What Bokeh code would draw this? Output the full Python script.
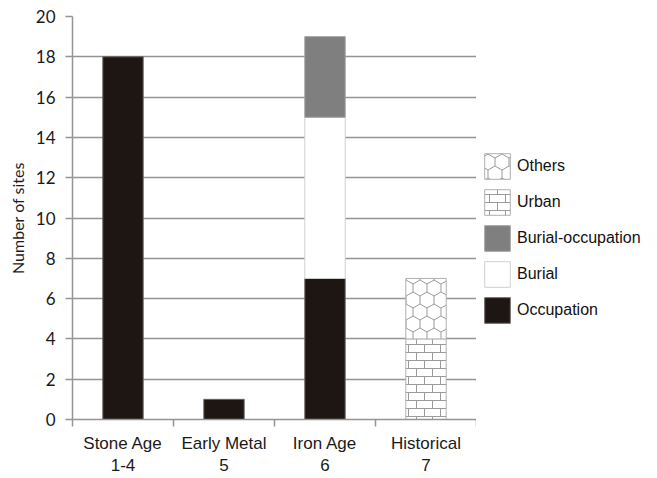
import base64
import numpy as np
from bokeh.plotting import figure
from bokeh.layouts import row
from bokeh.models import (ColumnDataSource, Range1d, FixedTicker, SingleIntervalTicker,
                          Legend, LegendItem, ImageURLTexture)
from bokeh.core.properties import value
from bokeh.embed import file_html
from bokeh.resources import INLINE

# ---- data ----
categories = ["Stone Age\n1-4", "Early Metal\n5", "Iron Age\n6", "Historical\n7"]
occupation = [18, 1, 7, 0]
burial = [0, 0, 8, 0]
burial_occupation = [0, 0, 4, 0]
urban = [0, 0, 0, 4]
others = [0, 0, 0, 3]
series_names = ["Occupation", "Burial", "Burial-occupation", "Urban", "Others"]
y_ticks_max = 20


def svg_url(svg):
    return "data:image/svg+xml;base64," + base64.b64encode(svg.encode()).decode()


brick_svg = ("<svg xmlns='http://www.w3.org/2000/svg' width='16' height='16'>"
             "<path d='M0 0.5H16M0 8.5H16M0.5 0V8M8.5 8V16' stroke='#9a9a9a' "
             "stroke-width='1' fill='none'/></svg>")
hex_svg = ("<svg xmlns='http://www.w3.org/2000/svg' width='14' height='24'>"
           "<path d='M7 0V4L0 8M7 4L14 8M0 8V16M14 8V16M0 16L7 20L14 16M7 20V24' "
           "stroke='#9a9a9a' stroke-width='1' fill='none'/></svg>")

textures = {"brick": ImageURLTexture(url=svg_url(brick_svg), repetition="repeat"),
            "hexa": ImageURLTexture(url=svg_url(hex_svg), repetition="repeat")}

styles = {
    "Occupation": dict(fill_color="#1e1612", line_color="#6a6664"),
    "Burial": dict(fill_color="#ffffff", line_color="#d0d0d0"),
    "Burial-occupation": dict(fill_color="#7f7f7f", line_color="#a0a0a0"),
    "Urban": dict(fill_color="#ffffff", line_color="#b0b0b0", hatch_pattern=value("brick"),
                  hatch_color="#9a9a9a", hatch_extra=textures),
    "Others": dict(fill_color="#ffffff", line_color="#b0b0b0", hatch_pattern=value("hexa"),
                   hatch_color="#9a9a9a", hatch_extra=textures),
}

W1, W2, H = 476, 181, 478
p = figure(width=W1, height=H, output_backend="svg", toolbar_location=None,
           x_range=Range1d(0, len(categories)), y_range=Range1d(0, y_ticks_max),
           min_border_left=72, min_border_right=0, min_border_top=16,
           min_border_bottom=56)
p.outline_line_color = None

xc = np.arange(len(categories)) + 0.5
vals = [occupation, burial, burial_occupation, urban, others]
bottom = np.zeros(len(categories))
sources = {}
for name, v in zip(series_names, vals):
    v = np.array(v, dtype=float)
    mask = v > 0
    src = ColumnDataSource(dict(x=xc[mask], bottom=bottom[mask], top=(bottom + v)[mask]))
    sources[name] = src
    p.vbar(x="x", bottom="bottom", top="top", width=0.4, source=src,
           line_width=1, **styles[name])
    bottom = bottom + v

# grid
p.xgrid.visible = False
p.ygrid.grid_line_color = "#949494"
p.ygrid.grid_line_width = 1.5

# y axis
p.yaxis.ticker = SingleIntervalTicker(interval=2)
p.yaxis.axis_label = "Number of sites"
p.yaxis.axis_label_text_font = "Lato"
p.yaxis.axis_label_text_font_size = "16px"
p.yaxis.axis_label_text_font_style = "normal"
p.yaxis.axis_label_text_color = "#1a1a1a"
p.yaxis.axis_label_standoff = 6
p.yaxis.major_label_text_font = "Lato"
p.yaxis.major_label_text_font_size = "17px"
p.yaxis.major_label_text_color = "#1a1a1a"
p.yaxis.major_label_standoff = 10
p.yaxis.axis_line_color = "#949494"
p.yaxis.axis_line_width = 1.5
p.yaxis.major_tick_line_color = "#949494"
p.yaxis.major_tick_line_width = 1.5
p.yaxis.major_tick_out = 7
p.yaxis.major_tick_in = 0
p.yaxis.minor_tick_line_color = None

# x axis
p.xaxis.ticker = FixedTicker(ticks=list(xc), minor_ticks=list(np.arange(len(categories) + 1)))
p.xaxis.major_label_overrides = {float(x): c for x, c in zip(xc, categories)}
p.xaxis.major_label_text_font = "Liberation Sans"
p.xaxis.major_label_text_font_size = "17px"
p.xaxis.major_label_text_color = "#1a1a1a"
p.xaxis.major_label_standoff = 7
p.xaxis.major_tick_out = 0
p.xaxis.major_tick_in = 0
p.xaxis.major_tick_line_color = None
p.xaxis.minor_tick_out = 7
p.xaxis.minor_tick_in = 0
p.xaxis.minor_tick_line_color = "#949494"
p.xaxis.minor_tick_line_width = 1.5
p.xaxis.axis_line_color = "#949494"
p.xaxis.axis_line_width = 1.5

# legend panel (separate figure so the legend sits to the right of the plot)
lg = figure(width=W2, height=H, output_backend="svg", toolbar_location=None,
            x_range=Range1d(-20, -19), y_range=Range1d(-20, -19),
            min_border_left=0, min_border_right=0, min_border_top=0, min_border_bottom=0)
lg.axis.visible = False
lg.grid.visible = False
lg.outline_line_color = None
leg_renderers = {}
for name in series_names:
    leg_renderers[name] = lg.vbar(x="x", bottom="bottom", top="top", width=0.4,
                                  source=sources[name], line_width=1, **styles[name])

items = [LegendItem(label=n, renderers=[leg_renderers[n]]) for n in reversed(series_names)]
legend = Legend(items=items, location=(5, 93), orientation="vertical",
                glyph_width=32, glyph_height=32, spacing=4, padding=0, margin=0,
                label_standoff=4, label_text_font="Liberation Sans",
                label_text_font_size="16px", label_text_color="#111111",
                border_line_color=None, background_fill_alpha=0)
lg.add_layout(legend, "center")

layout = row(p, lg, spacing=0)
open("out.html", "w").write(file_html(layout, INLINE))
